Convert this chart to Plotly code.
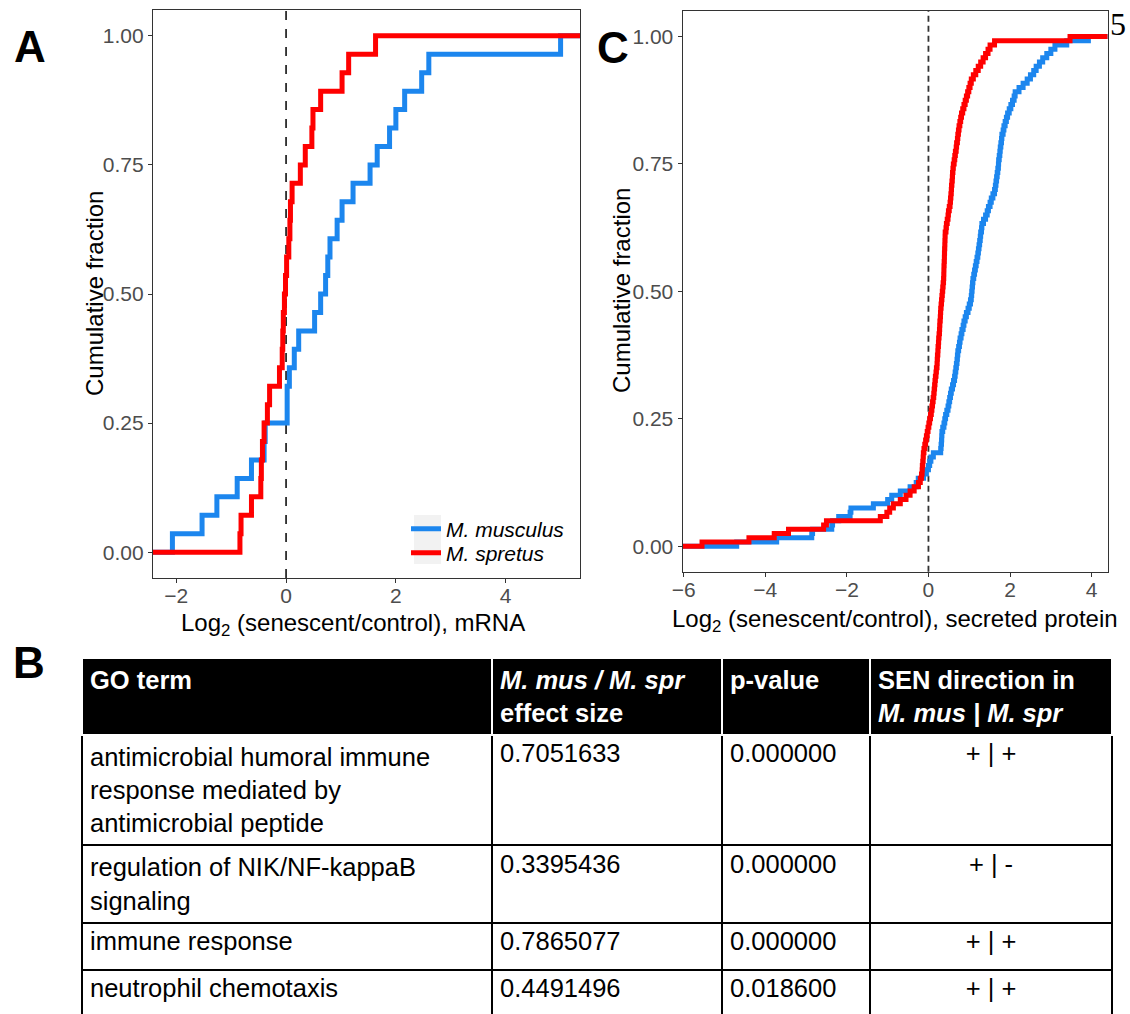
import plotly.graph_objects as go

# ---------------- data ----------------
series_names = ["M. musculus", "M. spretus"]
series_colors = ["#1C86EE", "#FF0000"]

# Panel A: log2(senescent/control) mRNA values per gene
mrna_musculus = [-2.07, -1.53, -1.26, -0.89, -0.63, -0.40, -0.38, 0.02, 0.02, 0.06,
                 0.15, 0.23, 0.52, 0.63, 0.72, 0.76, 0.80, 0.93, 1.02, 1.22,
                 1.53, 1.66, 1.885, 2.0, 2.16, 2.47, 2.60, 5.0]
mrna_spretus = [-0.84, -0.82, -0.63, -0.46, -0.45, -0.43, -0.40, -0.34, -0.30, -0.12,
                -0.07, -0.06, -0.05, -0.03, -0.01, 0.01, 0.05, 0.07, 0.08, 0.11,
                0.26, 0.35, 0.47, 0.49, 0.63, 1.02, 1.14, 1.63]

# Panel C: log2(senescent/control) secreted protein values
protein_musculus = [-4.70, -3.72, -2.86, -2.84, -2.37, -2.35, -2.20, -1.92, -1.90, -1.35,
                    -1.00, -0.90, -0.69, -0.45, -0.30, -0.25, -0.12, -0.05, 0.00, 0.03,
                    0.06, 0.12, 0.30, 0.31, 0.32, 0.325, 0.33, 0.35, 0.38, 0.40,
                    0.42, 0.45, 0.48, 0.50, 0.52, 0.54, 0.56, 0.59, 0.615, 0.64,
                    0.655, 0.67, 0.685, 0.70, 0.71, 0.72, 0.74, 0.76, 0.775, 0.80,
                    0.82, 0.85, 0.87, 0.90, 0.93, 0.97, 1.00, 1.03, 1.05, 1.06,
                    1.07, 1.08, 1.09, 1.11, 1.13, 1.15, 1.17, 1.19, 1.21, 1.225,
                    1.24, 1.255, 1.27, 1.28, 1.30, 1.31, 1.35, 1.40, 1.44, 1.47,
                    1.51, 1.54, 1.58, 1.62, 1.64, 1.655, 1.67, 1.685, 1.70, 1.715,
                    1.72, 1.735, 1.75, 1.76, 1.775, 1.79, 1.80, 1.83, 1.85, 1.88,
                    1.91, 1.94, 1.98, 2.02, 2.06, 2.10, 2.125, 2.22, 2.32, 2.42,
                    2.50, 2.58, 2.64, 2.72, 2.80, 2.90, 3.00, 3.10, 3.39, 3.92]
protein_spretus = [-5.55, -4.40, -3.78, -3.43, -2.57, -2.50, -1.18, -1.02, -0.95, -0.86,
                   -0.69, -0.55, -0.45, -0.35, -0.245, -0.20, -0.17, -0.155, -0.15, -0.14,
                   -0.13, -0.125, -0.11, -0.09, -0.07, -0.05, -0.03, -0.01, 0.01, 0.03,
                   0.05, 0.07, 0.085, 0.10, 0.115, 0.13, 0.14, 0.15, 0.16, 0.17,
                   0.185, 0.195, 0.21, 0.215, 0.22, 0.23, 0.235, 0.245, 0.25, 0.26,
                   0.27, 0.275, 0.28, 0.29, 0.295, 0.30, 0.31, 0.32, 0.33, 0.34,
                   0.35, 0.36, 0.37, 0.375, 0.378, 0.38, 0.385, 0.39, 0.392, 0.395,
                   0.40, 0.403, 0.407, 0.41, 0.43, 0.44, 0.46, 0.48, 0.49, 0.51,
                   0.53, 0.54, 0.55, 0.56, 0.565, 0.575, 0.585, 0.59, 0.60, 0.61,
                   0.63, 0.645, 0.66, 0.68, 0.69, 0.71, 0.72, 0.735, 0.75, 0.77,
                   0.79, 0.81, 0.84, 0.87, 0.90, 0.93, 0.96, 0.99, 1.02, 1.05,
                   1.10, 1.16, 1.22, 1.28, 1.34, 1.40, 1.46, 1.51, 1.62, 3.47]

y_ticks = [0, 0.25, 0.5, 0.75, 1.0]
x_ticks_a = [-2, 0, 2, 4]
x_ticks_c = [-6, -4, -2, 0, 2, 4]

# Panel B table
table_columns = ["<b>GO term</b>",
                 "<b><i>M. mus / M. spr</i><br>effect size</b>",
                 "<b>p-value</b>",
                 "<b>SEN direction in<br><i>M. mus | M. spr</i></b>"]
go_terms = ["antimicrobial humoral immune<br>response mediated by<br>antimicrobial peptide",
            "regulation of NIK/NF-kappaB<br>signaling",
            "immune response",
            "neutrophil chemotaxis"]
effect_sizes = [0.7051633, 0.3395436, 0.7865077, 0.4491496]
p_values = [0.000000, 0.000000, 0.000000, 0.018600]
sen_direction = ["+ | +", "+ | -", "+ | +", "+ | +"]

# ---------------- layout helpers ----------------
W, H = 1130, 1014
FONT = "Liberation Sans, Arial, sans-serif"


def px_x(p):
    return p / W


def px_y(p):
    return 1 - p / H


def expanded_range(*groups):
    vals = [v for g in groups for v in g]
    lo, hi = min(vals), max(vals)
    pad = 0.05 * (hi - lo)
    return [lo - pad, hi + pad]


def ecdf_xy(vals, lo, hi):
    v = sorted(vals)
    n = len(v)
    xs = [lo] + v + [hi]
    ys = [0.0] + [(i + 1) / n for i in range(n)] + [1.0]
    return xs, ys


range_a = expanded_range(mrna_musculus, mrna_spretus)
range_c = expanded_range(protein_musculus, protein_spretus)

fig = go.Figure()

legend_ids = ["legend", "legend2"]
for name, color, data, lg in zip(series_names, series_colors, [mrna_musculus, mrna_spretus], legend_ids):
    xs, ys = ecdf_xy(data, *range_a)
    fig.add_trace(go.Scatter(x=xs, y=ys, mode="lines", line=dict(color=color, width=5, shape="hv"),
                             name="<i>%s</i>" % name, xaxis="x", yaxis="y", showlegend=True, legend=lg))
for name, color, data in zip(series_names, series_colors, [protein_musculus, protein_spretus]):
    xs, ys = ecdf_xy(data, *range_c)
    fig.add_trace(go.Scatter(x=xs, y=ys, mode="lines", line=dict(color=color, width=5, shape="hv"),
                             name=name, xaxis="x2", yaxis="y2", showlegend=False))

fig.add_trace(go.Table(
    domain=dict(x=[px_x(82), px_x(1112)], y=[0, px_y(658)]),
    columnwidth=[410, 230, 148, 242],
    header=dict(values=table_columns, fill_color="black",
                font=dict(family=FONT, size=25.5, color="white"),
                align="left", line=dict(color="white", width=1.5), height=46),
    cells=dict(values=[go_terms,
                       ["%.7f" % v for v in effect_sizes],
                       ["%.6f" % v for v in p_values],
                       sen_direction],
               fill_color="white", font=dict(family=FONT, size=25.5, color="black"),
               align=["left", "left", "left", "center"],
               line=dict(color="black", width=2), height=47),
))

axis_common = dict(ticks="outside", ticklen=4, tickwidth=1.2, tickcolor="#333333",
                   showline=True, mirror=True, linecolor="#333333", linewidth=1.4,
                   showgrid=False, zeroline=False, automargin=False,
                   tickfont=dict(family=FONT, size=21, color="#4D4D4D"))

legend_common = dict(xanchor="left", yanchor="middle", bgcolor="rgba(0,0,0,0)",
                     font=dict(family=FONT, size=21, color="black"), itemwidth=30)

fig.update_layout(
    width=W, height=H, margin=dict(l=0, r=0, t=0, b=0, pad=0, autoexpand=False),
    paper_bgcolor="white", plot_bgcolor="white",
    xaxis=dict(domain=[px_x(153), px_x(580)], range=range_a, tickvals=x_ticks_a, anchor="y",
               ticklabelstandoff=-5, **axis_common),
    yaxis=dict(domain=[px_y(578), px_y(10)], range=[-0.05, 1.05], tickvals=y_ticks, tickformat=".2f",
               anchor="x", **axis_common),
    xaxis2=dict(domain=[px_x(682.7), px_x(1107.7)], range=range_c, tickvals=x_ticks_c, anchor="y2",
                ticklabelstandoff=-5, **axis_common),
    yaxis2=dict(domain=[px_y(571.7), px_y(11)], range=[-0.05, 1.05], tickvals=y_ticks, tickformat=".2f",
                anchor="x2", **axis_common),
    legend=dict(x=px_x(406), y=px_y(529), **legend_common),
    legend2=dict(x=px_x(406), y=px_y(553), **legend_common),
    shapes=[
        dict(type="line", xref="x", yref="y domain", x0=0, x1=0, y0=0, y1=1, layer="below",
             line=dict(color="black", width=1.5, dash="dash")),
        dict(type="line", xref="x2", yref="y2 domain", x0=0, x1=0, y0=0, y1=1, layer="below",
             line=dict(color="#333333", width=1.8, dash="6px,4px")),
        dict(type="rect", xref="paper", yref="paper", x0=px_x(414), x1=px_x(441),
             y0=px_y(564), y1=px_y(515), layer="below", line=dict(width=0), fillcolor="#F2F2F2"),
    ],
)

annotations = [
    dict(text="<b>A</b>", x=px_x(30), y=px_y(46)),
    dict(text="<b>C</b>", x=px_x(613), y=px_y(47)),
    dict(text="<b>B</b>", x=px_x(29), y=px_y(662)),
]
for a in annotations:
    a.update(xref="paper", yref="paper", showarrow=False, xanchor="center", yanchor="middle",
             font=dict(family=FONT, size=44, color="black"))

annotations += [
    dict(text="Cumulative fraction", x=px_x(95), y=px_y(294), textangle=-90),
    dict(text="Cumulative fraction", x=px_x(621), y=px_y(291), textangle=-90),
    dict(text="Log<sub>2</sub> (senescent/control), mRNA", x=px_x(353), y=px_y(624)),
    dict(text="Log<sub>2</sub> (senescent/control), secreted protein", x=px_x(895), y=px_y(620)),
]
for a in annotations[3:]:
    a.update(xref="paper", yref="paper", showarrow=False, xanchor="center", yanchor="middle",
             font=dict(family=FONT, size=24, color="black"))

annotations.append(dict(text="5", x=px_x(1118), y=px_y(24), xref="paper", yref="paper", showarrow=False,
                        xanchor="center", yanchor="middle",
                        font=dict(family="Liberation Serif, Times New Roman, serif", size=32, color="black")))

fig.update_layout(annotations=annotations)

# remove the default 8px page margin so the figure fills the window exactly
fig.write_html("out.html", config={"displayModeBar": False},
               post_script="document.body.style.margin='0px';document.body.style.overflow='hidden';")
